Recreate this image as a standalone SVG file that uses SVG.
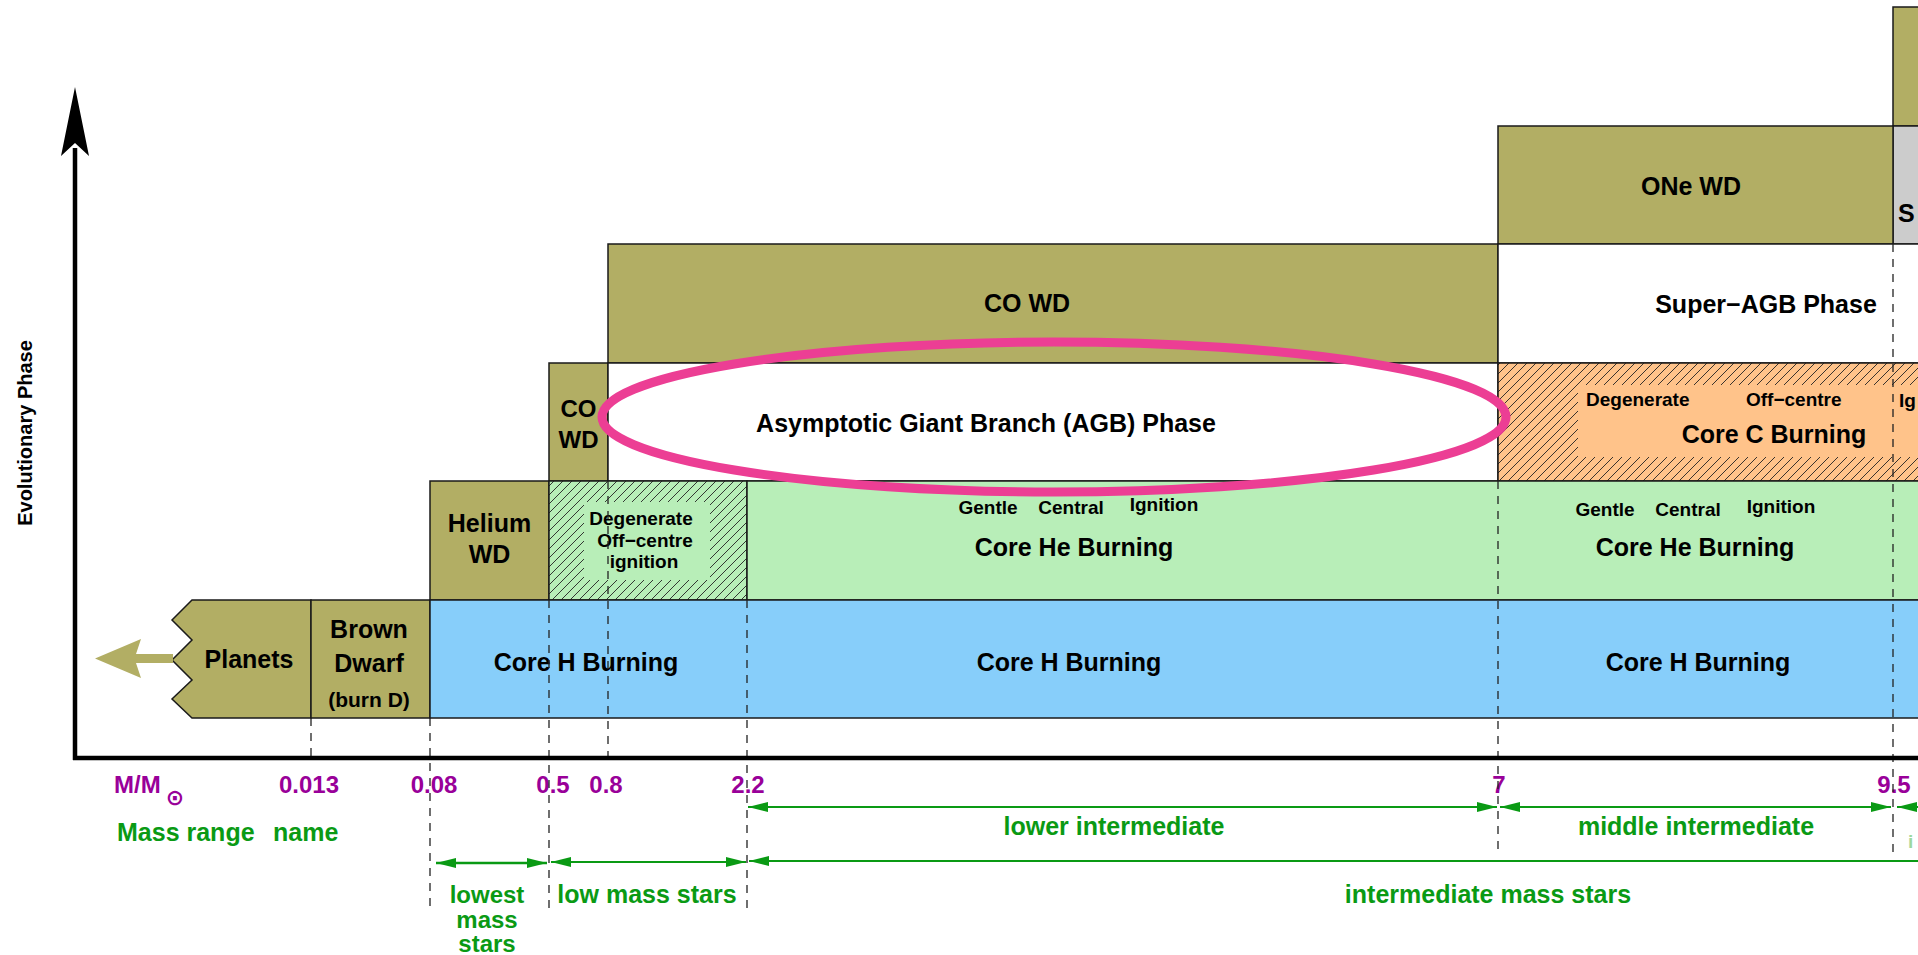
<svg xmlns="http://www.w3.org/2000/svg" width="1918" height="955" viewBox="0 0 1918 955">
<defs>
<style>
.box{stroke:#1a1a1a;stroke-width:1.5}
.olive{fill:#B2AE64}
.blue{fill:#87CEFA}
.green{fill:#B8EEB8}
.orange{fill:#FFC38A}
.white{fill:#FFFFFF}
.gray{fill:#CCCCCC}
.t{font-family:"Liberation Sans",Arial,Helvetica,sans-serif;font-weight:bold;fill:#000;text-anchor:middle}
.big{font-size:25px}
.mid{font-size:24px}
.sm{font-size:19px}
.num{font-family:"Liberation Sans",Arial,Helvetica,sans-serif;font-weight:bold;font-size:24px;fill:#990099;text-anchor:middle}
.gl{font-family:"Liberation Sans",Arial,Helvetica,sans-serif;font-weight:bold;font-size:25px;fill:#0A9A14;text-anchor:middle}
.dash{stroke:#222;stroke-width:1.3;stroke-dasharray:8 7;fill:none}
.garr{stroke:#0A9A14;stroke-width:2;fill:none}
</style>
<pattern id="hatch" patternUnits="userSpaceOnUse" width="9" height="9">
<path d="M-1,10 L10,-1 M-1,1 L1,-1 M8,10 L10,8" stroke="#222" stroke-width="0.9" fill="none"/>
</pattern>
<marker id="ah" markerUnits="userSpaceOnUse" markerWidth="20" markerHeight="10" refX="20" refY="5" orient="auto-start-reverse" viewBox="0 0 20 10">
<path d="M0,0 L20,5 L0,10 Z" fill="#0A9A14"/>
</marker>
</defs>
<rect x="0" y="0" width="1918" height="955" fill="#FFFFFF"/>

<!-- Row 6 (clipped) -->
<g id="row6-top">
<rect class="box olive" x="1893" y="7" width="40" height="119"/>
</g>
<g id="row5-gray">
<rect class="box gray" x="1893" y="126" width="40" height="118"/>
<text class="t big" x="1898" y="222" style="text-anchor:start">S</text>
</g>
<g id="one-wd">
<rect class="box olive" x="1498" y="126" width="395" height="118"/>
<text class="t big" x="1691" y="195">ONe WD</text>
</g>

<!-- Row 4 -->
<g id="co-wd">
<rect class="box olive" x="608" y="244" width="890" height="119"/>
<text class="t big" x="1027" y="312">CO WD</text>
</g>
<g id="super-agb">
<path class="box white" d="M1918,244 L1498,244 L1498,363 L1918,363"/>
<text class="t big" x="1766" y="313">Super−AGB Phase</text>
</g>

<!-- Row 3 -->
<g id="co-wd-small">
<rect class="box olive" x="549" y="363" width="59" height="118"/>
<text class="t mid" x="578.5" y="417">CO</text>
<text class="t mid" x="578.5" y="448">WD</text>
</g>
<g id="agb">
<rect class="box white" x="608" y="363" width="890" height="118"/>
<text class="t big" x="986" y="432">Asymptotic Giant Branch (AGB) Phase</text>
</g>
<g id="core-c">
<rect class="orange" x="1498" y="363" width="430" height="118"/>
<rect fill="url(#hatch)" x="1498" y="363" width="430" height="118"/>
<rect class="orange" x="1578" y="385" width="350" height="72"/>
<rect class="box" fill="none" x="1498" y="363" width="430" height="118"/>
<text class="t sm" x="1586" y="406" style="text-anchor:start">Degenerate</text>
<text class="t sm" x="1746" y="406" style="text-anchor:start">Off−centre</text>
<text class="t sm" x="1899" y="407" style="text-anchor:start">Ig</text>
<text class="t big" x="1774" y="443">Core C Burning</text>
</g>

<!-- Row 2 -->
<g id="helium-wd">
<rect class="box olive" x="430" y="481" width="119" height="119"/>
<text class="t big" x="489.5" y="532">Helium</text>
<text class="t big" x="489.5" y="563">WD</text>
</g>
<g id="degenerate-he">
<rect class="green" x="549" y="481" width="198" height="119"/>
<rect fill="url(#hatch)" x="549" y="481" width="198" height="119"/>
<rect class="green" x="584" y="502" width="126" height="78"/>
<rect class="box" fill="none" x="549" y="481" width="198" height="119"/>
<text class="t sm" x="641" y="525">Degenerate</text>
<text class="t sm" x="645" y="547">Off−centre</text>
<text class="t sm" x="644" y="568">ignition</text>
</g>
<g id="core-he">
<rect class="box green" x="747" y="481" width="1181" height="119"/>
<text class="t sm" x="988" y="514">Gentle</text>
<text class="t sm" x="1071" y="514">Central</text>
<text class="t sm" x="1164" y="511">Ignition</text>
<text class="t big" x="1074" y="556">Core He Burning</text>
<text class="t sm" x="1605" y="516">Gentle</text>
<text class="t sm" x="1688" y="516">Central</text>
<text class="t sm" x="1781" y="513">Ignition</text>
<text class="t big" x="1695" y="556">Core He Burning</text>
</g>

<!-- Row 1 -->
<g id="planets">
<path class="box olive" d="M192,600 L311,600 L311,718 L192,718 L172,699 L192,680 L172,660 L192,640 L172,620 Z"/>
<polygon class="olive" points="95,658.5 141,639 136,654 173,654 173,663 136,663 141,678"/>
<text class="t big" x="249" y="668">Planets</text>
</g>
<g id="brown-dwarf">
<rect class="box olive" x="311" y="600" width="119" height="118"/>
<text class="t big" x="369" y="638">Brown</text>
<text class="t big" x="369" y="672">Dwarf</text>
<text class="t" style="font-size:21px" x="369" y="707">(burn D)</text>
</g>
<g id="core-h">
<rect class="box blue" x="430" y="600" width="1498" height="118"/>
<text class="t big" x="586" y="671">Core H Burning</text>
<text class="t big" x="1069" y="671">Core H Burning</text>
<text class="t big" x="1698" y="671">Core H Burning</text>
</g>

<!-- Axis labels -->
<g id="axis-labels">
<text class="t" style="font-size:20px" transform="translate(32,433) rotate(-90)">Evolutionary Phase</text>
<text class="num" x="114" y="793" style="text-anchor:start">M/M</text>
<text x="175" y="805" style="font-family:'DejaVu Sans',sans-serif;font-weight:bold;font-size:22px;fill:#990099;text-anchor:middle">⊙</text>
<text class="num" x="309" y="793">0.013</text>
<text class="num" x="434" y="793">0.08</text>
<text class="num" x="553" y="793">0.5</text>
<text class="num" x="606" y="793">0.8</text>
<text class="num" x="748" y="793">2.2</text>
<text class="num" x="1499" y="793">7</text>
<text class="num" x="1894" y="793">9.5</text>
</g>

<g id="range-labels">
<text class="gl" x="117" y="841" style="text-anchor:start">Mass range</text>
<text class="gl" x="273" y="841" style="text-anchor:start">name</text>
<text class="gl" x="1114" y="835">lower intermediate</text>
<text class="gl" x="1696" y="835">middle intermediate</text>
<text class="gl" x="1908" y="848" style="text-anchor:start;font-size:19px;fill:#9ED89E">i</text>
<text class="gl" x="487" y="903" style="font-size:24px">lowest</text>
<text class="gl" x="487" y="928" style="font-size:24px">mass</text>
<text class="gl" x="487" y="952" style="font-size:24px">stars</text>
<text class="gl" x="647" y="903">low mass stars</text>
<text class="gl" x="1488" y="903">intermediate mass stars</text>
</g>

<!-- Connectors -->
<g id="connectors">
<line class="dash" x1="311" y1="718" x2="311" y2="757"/>
<line class="dash" x1="430" y1="718" x2="430" y2="911"/>
<line class="dash" x1="549" y1="600" x2="549" y2="912"/>
<line class="dash" x1="608" y1="481" x2="608" y2="757"/>
<line class="dash" x1="747" y1="600" x2="747" y2="913"/>
<line class="dash" x1="1498" y1="481" x2="1498" y2="853"/>
<line class="dash" x1="1893" y1="244" x2="1893" y2="853"/>

<line x1="73" y1="758" x2="1918" y2="758" stroke="#000" stroke-width="4.5"/>
<line x1="75" y1="760" x2="75" y2="148" stroke="#000" stroke-width="4.5"/>
<polygon points="75,87 61,156 75,143 89,156" fill="#000"/>

<line class="garr" x1="748" y1="807" x2="1497" y2="807" marker-start="url(#ah)" marker-end="url(#ah)"/>
<line class="garr" x1="1500" y1="807" x2="1891" y2="807" marker-start="url(#ah)" marker-end="url(#ah)"/>
<line class="garr" x1="1897" y1="807" x2="1930" y2="807" marker-start="url(#ah)"/>
<line class="garr" style="stroke-width:2.5" x1="436" y1="863" x2="547" y2="863" marker-start="url(#ah)" marker-end="url(#ah)"/>
<line class="garr" style="stroke-width:2.2" x1="551" y1="862" x2="746" y2="862" marker-start="url(#ah)" marker-end="url(#ah)"/>
<line class="garr" x1="749" y1="861" x2="1930" y2="861" marker-start="url(#ah)"/>
</g>

<g id="highlight">
<ellipse cx="1054" cy="417" rx="452" ry="75" fill="none" stroke="#EC3E94" stroke-width="9"/>
</g>
</svg>
